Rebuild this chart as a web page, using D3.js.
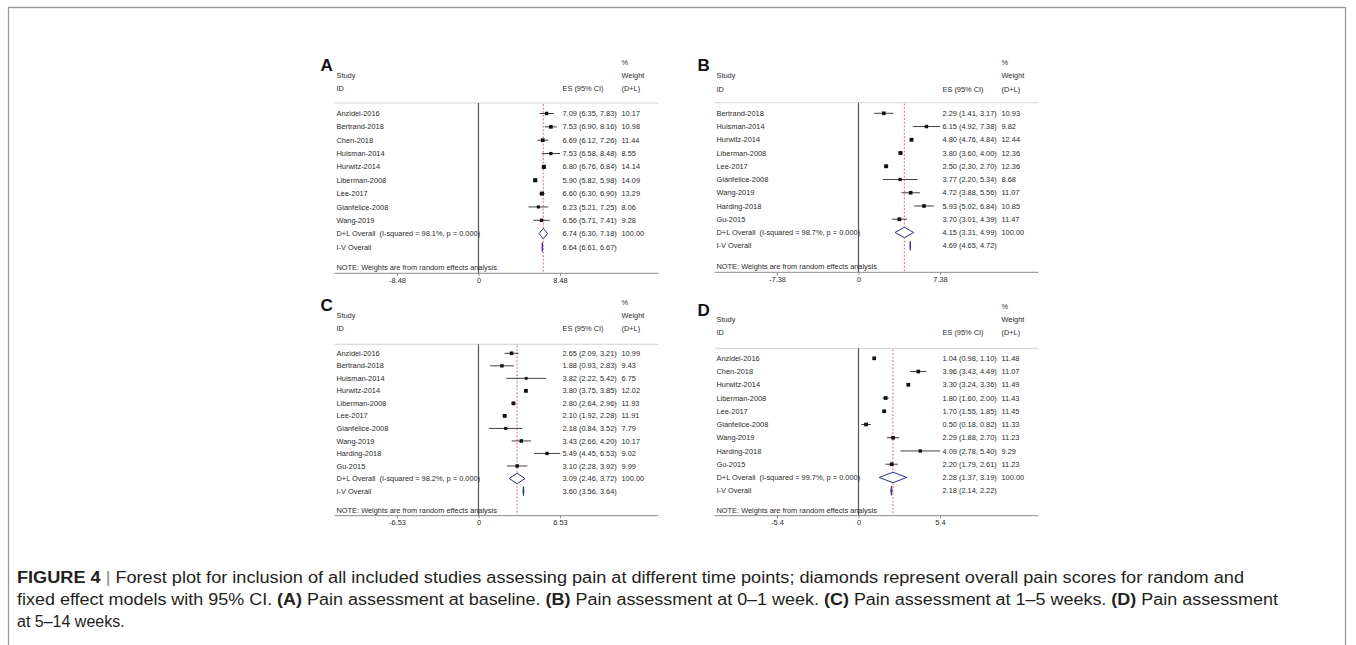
<!DOCTYPE html>
<html>
<head>
<meta charset="utf-8">
<script src="https://cdn.jsdelivr.net/npm/d3@7"></script>
<style>
  html, body { margin: 0; padding: 0; background: #fff; }
  svg { display: block; }
  .ft { font-family: "Liberation Sans", Arial, Helvetica, sans-serif; font-size: 7.4px; fill: #2a2a2a; }
  .cap { font-family: "Liberation Sans", Arial, Helvetica, sans-serif; fill: #231f20; }
</style>
</head>
<body>
<svg id="chart" width="1356" height="645"></svg>
<script>
// ---- data ----
const studiesA = ['Anzidei-2016', 'Bertrand-2018', 'Chen-2018', 'Huisman-2014', 'Hurwitz-2014', 'Liberman-2008', 'Lee-2017', 'Gianfelice-2008', 'Wang-2019']
const esA = [7.09, 7.53, 6.69, 7.53, 6.80, 5.90, 6.60, 6.23, 6.56]
const loA = [6.35, 6.90, 6.12, 6.58, 6.76, 5.82, 6.30, 5.21, 5.71]
const hiA = [7.83, 8.16, 7.26, 8.48, 6.84, 5.98, 6.90, 7.25, 7.41]
const wtA = [10.17, 10.98, 11.44, 8.55, 14.14, 14.09, 13.29, 8.06, 9.28]
const dlA = [6.74, 6.30, 7.18]
const ivA = [6.64, 6.61, 6.67]
const i2A = '98.1%'
const ticksA = [-8.48, 0, 8.48]
const tickLabelsA = ['-8.48', '0', '8.48']

const studiesB = ['Bertrand-2018', 'Huisman-2014', 'Hurwitz-2014', 'Liberman-2008', 'Lee-2017', 'Gianfelice-2008', 'Wang-2019', 'Harding-2018', 'Gu-2015']
const esB = [2.29, 6.15, 4.80, 3.80, 2.50, 3.77, 4.72, 5.93, 3.70]
const loB = [1.41, 4.92, 4.76, 3.60, 2.30, 2.20, 3.88, 5.02, 3.01]
const hiB = [3.17, 7.38, 4.84, 4.00, 2.70, 5.34, 5.56, 6.84, 4.39]
const wtB = [10.93, 9.82, 12.44, 12.36, 12.36, 8.68, 11.07, 10.85, 11.47]
const dlB = [4.15, 3.31, 4.99]
const ivB = [4.69, 4.65, 4.72]
const i2B = '98.7%'
const ticksB = [-7.38, 0, 7.38]
const tickLabelsB = ['-7.38', '0', '7.38']

const studiesC = ['Anzidei-2016', 'Bertrand-2018', 'Huisman-2014', 'Hurwitz-2014', 'Liberman-2008', 'Lee-2017', 'Gianfelice-2008', 'Wang-2019', 'Harding-2018', 'Gu-2015']
const esC = [2.65, 1.88, 3.82, 3.80, 2.80, 2.10, 2.18, 3.43, 5.49, 3.10]
const loC = [2.09, 0.93, 2.22, 3.75, 2.64, 1.92, 0.84, 2.66, 4.45, 2.28]
const hiC = [3.21, 2.83, 5.42, 3.85, 2.96, 2.28, 3.52, 4.20, 6.53, 3.92]
const wtC = [10.99, 9.43, 6.75, 12.02, 11.93, 11.91, 7.79, 10.17, 9.02, 9.99]
const dlC = [3.09, 2.46, 3.72]
const ivC = [3.60, 3.56, 3.64]
const i2C = '98.2%'
const ticksC = [-6.53, 0, 6.53]
const tickLabelsC = ['-6.53', '0', '6.53']

const studiesD = ['Anzidei-2016', 'Chen-2018', 'Hurwitz-2014', 'Liberman-2008', 'Lee-2017', 'Gianfelice-2008', 'Wang-2019', 'Harding-2018', 'Gu-2015']
const esD = [1.04, 3.96, 3.30, 1.80, 1.70, 0.50, 2.29, 4.09, 2.20]
const loD = [0.98, 3.43, 3.24, 1.60, 1.55, 0.18, 1.88, 2.78, 1.79]
const hiD = [1.10, 4.49, 3.36, 2.00, 1.85, 0.82, 2.70, 5.40, 2.61]
const wtD = [11.48, 11.07, 11.49, 11.43, 11.45, 11.33, 11.23, 9.29, 11.23]
const dlD = [2.28, 1.37, 3.19]
const ivD = [2.18, 2.14, 2.22]
const i2D = '99.7%'
const ticksD = [-5.4, 0, 5.4]
const tickLabelsD = ['-5.4', '0', '5.4']

const captionLines = [
  [['FIGURE 4', true], [' | ', 'bar'], ['Forest plot for inclusion of all included studies assessing pain at different time points; diamonds represent overall pain scores for random and', false]],
  [['fixed effect models with 95% CI. ', false], ['(A)', true], [' Pain assessment at baseline. ', false], ['(B)', true], [' Pain assessment at 0\u20131 week. ', false], ['(C)', true], [' Pain assessment at 1\u20135 weeks. ', false], ['(D)', true], [' Pain assessment', false]],
  [['at 5\u201314 weeks.', false]]
]

// ---- layout ----
const panels = [
  {label: 'A', studies: studiesA, es: esA, lo: loA, hi: hiA, wt: wtA, dl: dlA, iv: ivA, i2: i2A, ticks: ticksA, tl: tickLabelsA,
   x0: 336.5, yPct: 62, yStudy: 75, yId: 88.5, ySep: 103, yRow: 113.5, step: 13.35, yNote: 267, yAxis: 273.3, letterDx: -16},
  {label: 'B', studies: studiesB, es: esB, lo: loB, hi: hiB, wt: wtB, dl: dlB, iv: ivB, i2: i2B, ticks: ticksB, tl: tickLabelsB,
   x0: 716.5, yPct: 62, yStudy: 75, yId: 89, ySep: 102.7, yRow: 113.3, step: 13.24, yNote: 266.7, yAxis: 272.3, letterDx: -19},
  {label: 'C', studies: studiesC, es: esC, lo: loC, hi: hiC, wt: wtC, dl: dlC, iv: ivC, i2: i2C, ticks: ticksC, tl: tickLabelsC,
   x0: 336.5, yPct: 302, yStudy: 315.7, yId: 328.3, ySep: 344.3, yRow: 353.3, step: 12.52, yNote: 510, yAxis: 515.7, letterDx: -16},
  {label: 'D', studies: studiesD, es: esD, lo: loD, hi: hiD, wt: wtD, dl: dlD, iv: ivD, i2: i2D, ticks: ticksD, tl: tickLabelsD,
   x0: 716.5, yPct: 306.7, yStudy: 319, yId: 332.3, ySep: 348.3, yRow: 358.3, step: 13.24, yNote: 510.7, yAxis: 515.7, letterDx: -19}
]

const svg = d3.select('#chart')

// outer frame, open at the bottom
svg.append('path')
  .attr('d', 'M8.5,650 V7.5 H1345.5 V650')
  .attr('fill', 'none')
  .attr('stroke', '#9a9a9a')
  .attr('stroke-width', 1.3)

const fmt = d3.format('.2f')
const navy = '#2b2f8f'

const draw_panel = (p) => {
  const g = svg.append('g')
  const zero = p.x0 + 142
  const valX = p.x0 + 226
  const wX = p.x0 + 285
  const right = p.x0 + 322
  const n = p.studies.length
  const x = d3.scaleLinear().domain([p.ticks[0], p.ticks[2]]).range([zero - 81.5, zero + 81.5])
  const y = d3.scaleLinear().domain([0, 1]).range([p.yRow, p.yRow + p.step])

  // panel letter
  g.append('text')
    .attr('x', p.x0 + p.letterDx).attr('y', p.yPct + 9)
    .attr('font-family', 'Liberation Sans, Arial, sans-serif')
    .attr('font-weight', 'bold').attr('font-size', 17)
    .attr('fill', '#111')
    .text(p.label)

  // headers
  const head = [
    [p.x0, p.yStudy, 'Study'], [p.x0, p.yId, 'ID'],
    [valX, p.yId, 'ES (95% CI)'],
    [wX, p.yPct, '%'], [wX, p.yStudy, 'Weight'], [wX, p.yId, '(D+L)']
  ]
  g.selectAll('text.hd').data(head).join('text')
    .attr('class', 'ft hd')
    .attr('x', d => d[0]).attr('y', d => d[1]).attr('dy', '0.35em')
    .text(d => d[2])

  g.append('line')
    .attr('x1', p.x0 - 2).attr('x2', right).attr('y1', p.ySep).attr('y2', p.ySep)
    .attr('stroke', '#c8c8c8').attr('stroke-width', 0.8)

  // zero line and overall line
  g.append('line')
    .attr('x1', x(0)).attr('x2', x(0)).attr('y1', p.ySep).attr('y2', p.yAxis)
    .attr('stroke', '#555').attr('stroke-width', 1.2)
  g.append('line')
    .attr('x1', x(p.dl[0])).attr('x2', x(p.dl[0])).attr('y1', p.ySep + 1).attr('y2', p.yAxis)
    .attr('stroke', '#d2343a').attr('stroke-width', 0.7).attr('stroke-dasharray', '2,1.6')

  const rows = p.studies.map((s, i) => ({name: s, es: p.es[i], lo: p.lo[i], hi: p.hi[i], wt: p.wt[i], i: i}))

  // CIs and boxes
  g.selectAll('line.ci').data(rows).join('line')
    .attr('class', 'ci')
    .attr('x1', d => x(d.lo)).attr('x2', d => x(d.hi))
    .attr('y1', d => y(d.i)).attr('y2', d => y(d.i))
    .attr('stroke', '#111').attr('stroke-width', 0.8)
  g.selectAll('rect.box').data(rows).join('rect')
    .attr('class', 'box')
    .attr('x', d => x(d.es) - Math.sqrt(d.wt) * 0.55)
    .attr('y', d => y(d.i) - Math.sqrt(d.wt) * 0.55)
    .attr('width', d => Math.sqrt(d.wt) * 1.1)
    .attr('height', d => Math.sqrt(d.wt) * 1.1)
    .attr('fill', '#111')

  // labels
  g.selectAll('text.nm').data(rows).join('text')
    .attr('class', 'ft nm')
    .attr('x', p.x0).attr('y', d => y(d.i)).attr('dy', '0.35em')
    .text(d => d.name)
  g.selectAll('text.es').data(rows).join('text')
    .attr('class', 'ft es')
    .attr('x', valX).attr('y', d => y(d.i)).attr('dy', '0.35em')
    .text(d => `${fmt(d.es)} (${fmt(d.lo)}, ${fmt(d.hi)})`)
  g.selectAll('text.wt').data(rows).join('text')
    .attr('class', 'ft wt')
    .attr('x', wX).attr('y', d => y(d.i)).attr('dy', '0.35em')
    .text(d => fmt(d.wt))

  // overall rows
  const diamond = (v, yc, h) => `M${x(v[1])},${yc} L${x(v[0])},${yc - h / 2} L${x(v[2])},${yc} L${x(v[0])},${yc + h / 2} Z`
  g.append('path').attr('d', diamond(p.dl, y(n), 10.5))
    .attr('fill', '#fff').attr('stroke', navy).attr('stroke-width', 1)
  g.append('path').attr('d', diamond(p.iv, y(n + 1), 9))
    .attr('fill', navy).attr('stroke', navy).attr('stroke-width', 0.9)

  const dlText = g.append('text').attr('class', 'ft').attr('x', p.x0).attr('y', y(n)).attr('dy', '0.35em')
  dlText.append('tspan').text('D+L Overall')
  dlText.append('tspan').attr('dx', 4).text(`(I-squared = ${p.i2}, p = 0.000)`)
  g.append('text').attr('class', 'ft').attr('x', valX).attr('y', y(n)).attr('dy', '0.35em')
    .text(`${fmt(p.dl[0])} (${fmt(p.dl[1])}, ${fmt(p.dl[2])})`)
  g.append('text').attr('class', 'ft').attr('x', wX).attr('y', y(n)).attr('dy', '0.35em')
    .text('100.00')
  g.append('text').attr('class', 'ft').attr('x', p.x0).attr('y', y(n + 1)).attr('dy', '0.35em')
    .text('I-V Overall')
  g.append('text').attr('class', 'ft').attr('x', valX).attr('y', y(n + 1)).attr('dy', '0.35em')
    .text(`${fmt(p.iv[0])} (${fmt(p.iv[1])}, ${fmt(p.iv[2])})`)

  g.append('text').attr('class', 'ft').attr('x', p.x0).attr('y', p.yNote).attr('dy', '0.35em')
    .text('NOTE: Weights are from random effects analysis')

  // axis
  g.append('line')
    .attr('x1', p.x0 - 2).attr('x2', right).attr('y1', p.yAxis).attr('y2', p.yAxis)
    .attr('stroke', '#8a8a8a').attr('stroke-width', 1)
  const ax = g.append('g')
    .attr('transform', `translate(0,${p.yAxis})`)
    .call(d3.axisBottom(x).tickValues(p.ticks).tickSize(2.5).tickPadding(2)
      .tickFormat((d, i) => p.tl[i]))
  ax.select('.domain').remove()
  ax.selectAll('line').attr('stroke', '#8a8a8a')
  ax.selectAll('text').attr('class', 'ft').attr('font-size', null).attr('font-family', null).attr('fill', null)
}

panels.forEach(draw_panel)

// caption
const capG = svg.append('g')
const capY = [583, 605, 627]
const capRight = [1244, 1278, null]
captionLines.forEach((parts, li) => {
  const t = capG.append('text').attr('class', 'cap').attr('x', 17).attr('y', capY[li]).attr('font-size', 16)
  parts.forEach(([s, b]) => {
    const sp = t.append('tspan').text(s)
    if (b === true) sp.attr('font-weight', 'bold')
    if (b === 'bar') sp.attr('fill', '#888')
  })
  if (capRight[li]) t.attr('textLength', capRight[li] - 17).attr('lengthAdjust', 'spacingAndGlyphs')
})
</script>
</body>
</html>
